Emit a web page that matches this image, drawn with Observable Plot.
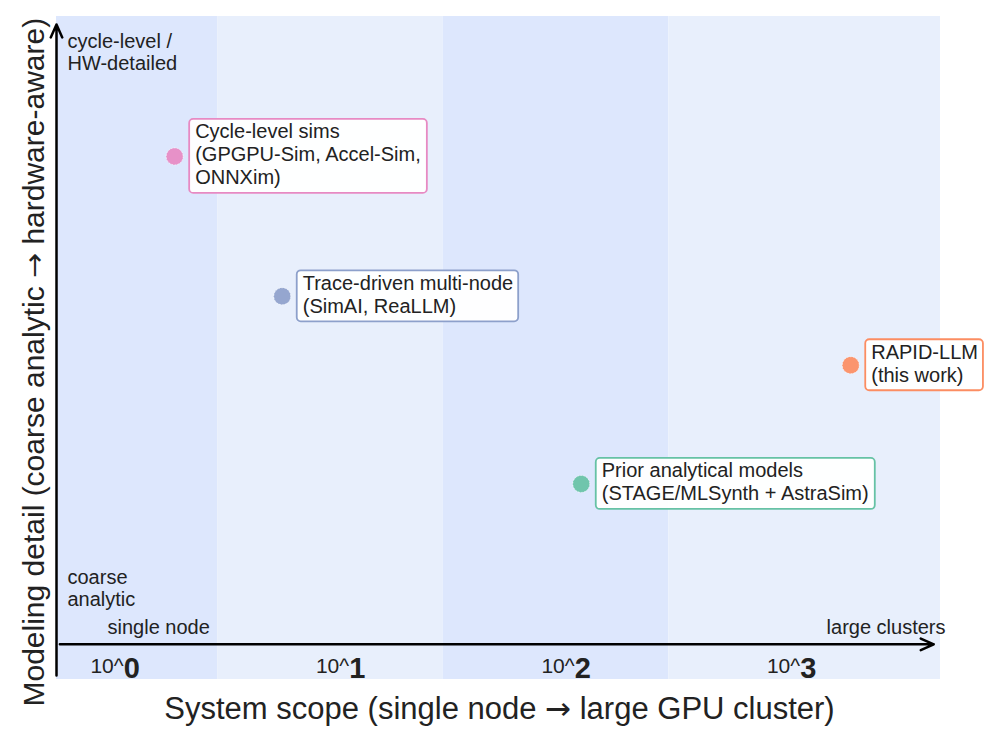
<!DOCTYPE html>
<html><head><meta charset="utf-8">
<script src="https://cdn.jsdelivr.net/npm/d3@7"></script>
<script src="https://cdn.jsdelivr.net/npm/@observablehq/plot@0.6"></script>
<style>
@font-face { font-family: "ArrowSans"; src: local("DejaVu Sans"); unicode-range: U+2190-21FF; }
body{margin:0;background:#fff;font-family:"Liberation Sans",Arial,sans-serif}
</style>
</head><body><div id="chart"></div>
<script>
// ---- data ----
const labels = [
  "Cycle-level sims\n(GPGPU-Sim, Accel-Sim,\nONNXim)",
  "Trace-driven multi-node\n(SimAI, ReaLLM)",
  "RAPID-LLM\n(this work)",
  "Prior analytical models\n(STAGE/MLSynth + AstraSim)"
];
const scopeLog10 = [0.264, 0.741, 3.262, 2.067];   // system scope (log10 #GPUs)
const detailScore = [7.89, 5.78, 4.74, 2.95];      // modeling detail (0 = coarse, 10 = cycle-level)
const colors = ["#e78ac3", "#8da0cb", "#fc8d62", "#66c2a5"];
const tickValues = [0, 1, 2, 3];
const tickExponents = ["0", "1", "2", "3"];
const bandStarts = [-0.26, 0.455, 1.455, 2.455];
const bandEnds = [0.455, 1.455, 2.455, 3.66];
const bandFills = ["#dde7fd", "#e8effc", "#dde7fd", "#e8effc"];
const axisArrows = [
  {x1: -0.26, y1: 0.06, x2: -0.26, y2: 9.88},
  {x1: -0.245, y1: 0.53, x2: 3.63, y2: 0.53}
];

// ---- build ----
const FONT = "Liberation Sans, Arial, sans-serif";
const TITLE_FONT = "ArrowSans, Liberation Sans, Arial, sans-serif";
const pts = labels.map((t, i) => ({label: t, x: scopeLog10[i], y: detailScore[i], color: colors[i]}));
const bands = bandStarts.map((s, i) => ({x1: s, x2: bandEnds[i], fill: bandFills[i]}));
const ticks = tickValues.map((v, i) => ({v, e: tickExponents[i]}));

const ctx = document.createElement("canvas").getContext("2d");
ctx.font = "20px 'Liberation Sans'";
const lineH = 23;

const boxMarks = pts.map(p => {
  const lines = p.label.split("\n");
  const w = Math.max(...lines.map(l => ctx.measureText(l).width)) + 11;
  const h = lines.length * lineH + 5;
  return Plot.rect([p], {
    x1: "x", x2: "x", y1: "y", y2: "y",
    insetLeft: 15, insetRight: -(15 + w),
    insetTop: -h / 2, insetBottom: -h / 2,
    fill: "white", fillOpacity: 0.96, stroke: p.color, strokeWidth: 1.8, rx: 4
  });
});

function draw() {
  const chart = Plot.plot({
    width: 996, height: 744,
    marginLeft: 56, marginRight: 56, marginTop: 16, marginBottom: 65,
    style: {fontFamily: FONT, background: "white", color: "#222"},
    x: {domain: [-0.26, 3.66], axis: null},
    y: {domain: [0, 10], axis: null},
    color: {type: "identity"},
    marks: [
      Plot.rect(bands, {x1: "x1", x2: "x2", fill: "fill"}),
      Plot.arrow(axisArrows, {x1: "x1", y1: "y1", x2: "x2", y2: "y2", stroke: "black", strokeWidth: 2.5, headLength: 8.5, headAngle: 48}),
      Plot.text(ticks, {x: "v", text: () => "10^", frameAnchor: "bottom", lineAnchor: "bottom", textAnchor: "end", dx: 8.5, dy: -7, fontSize: 21, fill: "#222"}),
      Plot.text(ticks, {x: "v", text: "e", frameAnchor: "bottom", lineAnchor: "bottom", textAnchor: "start", dx: 8.5, dy: -2, fontSize: 29, fontWeight: "bold", fill: "#222"}),
      Plot.text(["cycle-level /\nHW-detailed"], {frameAnchor: "top-left", lineAnchor: "top", textAnchor: "start", dx: 11, dy: 15.4, fontSize: 20, lineHeight: 1.1, fill: "#222"}),
      Plot.text(["coarse\nanalytic"], {frameAnchor: "bottom-left", lineAnchor: "bottom", textAnchor: "start", dx: 11, dy: -74, fontSize: 20, lineHeight: 1.1, fill: "#222"}),
      Plot.text(["single node"], {frameAnchor: "bottom-left", lineAnchor: "bottom", textAnchor: "start", dx: 51, dy: -46, fontSize: 20, fill: "#222"}),
      Plot.text(["large clusters"], {frameAnchor: "bottom-right", lineAnchor: "bottom", textAnchor: "end", dx: 5, dy: -46, fontSize: 20, fill: "#222"}),
      ...boxMarks,
      Plot.dot(pts, {x: "x", y: "y", r: 8.5, fill: "color", fillOpacity: 0.92, stroke: "white", strokeOpacity: 0.6, strokeWidth: 1, strokeDasharray: "1.5,1.5"}),
      Plot.text(pts, {x: "x", y: "y", text: "label", textAnchor: "start", lineAnchor: "middle", dx: 20.5, dy: -2.5, fontSize: 20, lineHeight: 1.15, fill: "#222"}),
      Plot.text(["System scope (single node \u2192 large GPU cluster)"], {frameAnchor: "bottom", lineAnchor: "bottom", textAnchor: "middle", dx: 1, dy: 39, fontSize: 31, fontFamily: TITLE_FONT, fill: "#222"}),
      Plot.text(["Modeling detail (coarse analytic \u2192 hardware-aware)"], {frameAnchor: "bottom-left", lineAnchor: "bottom", textAnchor: "start", rotate: -90, dx: -13, dy: 27, fontSize: 30, fontFamily: TITLE_FONT, fill: "#222"})
    ]
  });
  const el = document.getElementById("chart");
  el.innerHTML = "";
  el.appendChild(chart);
}
draw();
</script>
</body></html>
